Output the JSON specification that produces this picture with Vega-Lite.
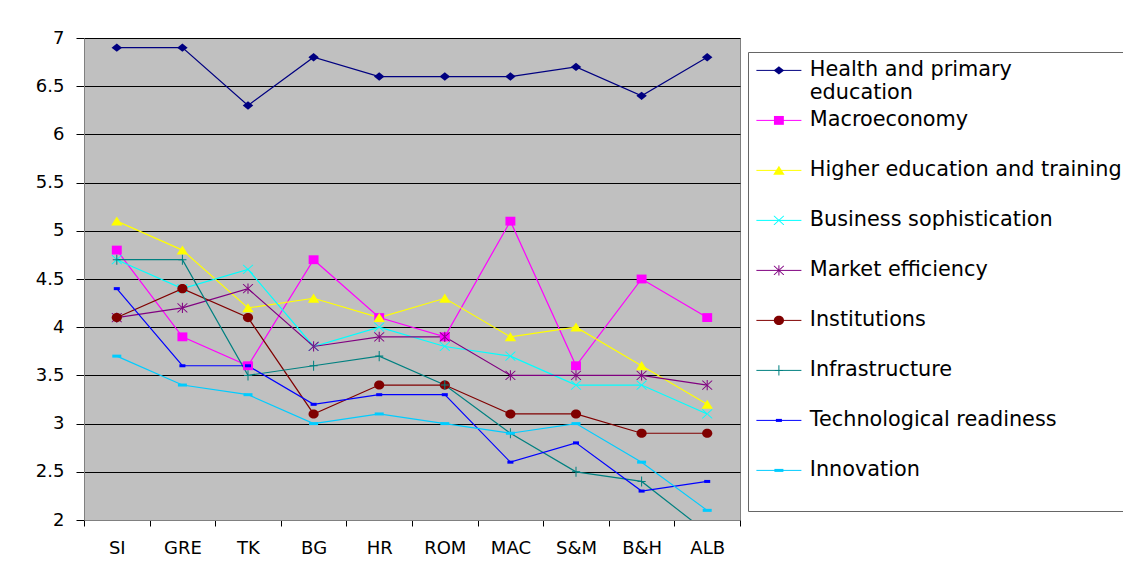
{
  "$schema": "https://vega.github.io/schema/vega-lite/v6.json",
  "width": 656,
  "height": 482,
  "autosize": {"type": "none"},
  "padding": {"left": 84, "top": 38, "right": 383, "bottom": 48},
  "background": "white",
  "config": {
    "font": "DejaVu Sans",
    "view": {"fill": "#C0C0C0", "stroke": "#808080", "strokeWidth": 1}
  },
  "data": {
    "values": [
      {"country": "SI", "Health and primary education": 6.9, "Macroeconomy": 4.8, "Higher education and training": 5.1, "Business sophistication": 4.7, "Market efficiency": 4.1, "Institutions": 4.1, "Infrastructure": 4.7, "Technological readiness": 4.4, "Innovation": 3.7},
      {"country": "GRE", "Health and primary education": 6.9, "Macroeconomy": 3.9, "Higher education and training": 4.8, "Business sophistication": 4.4, "Market efficiency": 4.2, "Institutions": 4.4, "Infrastructure": 4.7, "Technological readiness": 3.6, "Innovation": 3.4},
      {"country": "TK", "Health and primary education": 6.3, "Macroeconomy": 3.6, "Higher education and training": 4.2, "Business sophistication": 4.6, "Market efficiency": 4.4, "Institutions": 4.1, "Infrastructure": 3.5, "Technological readiness": 3.6, "Innovation": 3.3},
      {"country": "BG", "Health and primary education": 6.8, "Macroeconomy": 4.7, "Higher education and training": 4.3, "Business sophistication": 3.8, "Market efficiency": 3.8, "Institutions": 3.1, "Infrastructure": 3.6, "Technological readiness": 3.2, "Innovation": 3.0},
      {"country": "HR", "Health and primary education": 6.6, "Macroeconomy": 4.1, "Higher education and training": 4.1, "Business sophistication": 4.0, "Market efficiency": 3.9, "Institutions": 3.4, "Infrastructure": 3.7, "Technological readiness": 3.3, "Innovation": 3.1},
      {"country": "ROM", "Health and primary education": 6.6, "Macroeconomy": 3.9, "Higher education and training": 4.3, "Business sophistication": 3.8, "Market efficiency": 3.9, "Institutions": 3.4, "Infrastructure": 3.4, "Technological readiness": 3.3, "Innovation": 3.0},
      {"country": "MAC", "Health and primary education": 6.6, "Macroeconomy": 5.1, "Higher education and training": 3.9, "Business sophistication": 3.7, "Market efficiency": 3.5, "Institutions": 3.1, "Infrastructure": 2.9, "Technological readiness": 2.6, "Innovation": 2.9},
      {"country": "S&M", "Health and primary education": 6.7, "Macroeconomy": 3.6, "Higher education and training": 4.0, "Business sophistication": 3.4, "Market efficiency": 3.5, "Institutions": 3.1, "Infrastructure": 2.5, "Technological readiness": 2.8, "Innovation": 3.0},
      {"country": "B&H", "Health and primary education": 6.4, "Macroeconomy": 4.5, "Higher education and training": 3.6, "Business sophistication": 3.4, "Market efficiency": 3.5, "Institutions": 2.9, "Infrastructure": 2.4, "Technological readiness": 2.3, "Innovation": 2.6},
      {"country": "ALB", "Health and primary education": 6.8, "Macroeconomy": 4.1, "Higher education and training": 3.2, "Business sophistication": 3.1, "Market efficiency": 3.4, "Institutions": 2.9, "Infrastructure": 1.87, "Technological readiness": 2.4, "Innovation": 2.1}
    ]
  },
  "transform": [
    {"fold": ["Health and primary education", "Macroeconomy", "Higher education and training", "Business sophistication", "Market efficiency", "Institutions", "Infrastructure", "Technological readiness", "Innovation"], "as": ["series", "value"]}
  ],
  "encoding": {
    "x": {
      "field": "country", "type": "nominal",
      "sort": ["SI", "GRE", "TK", "BG", "HR", "ROM", "MAC", "S&M", "B&H", "ALB"],
      "scale": {"paddingInner": 0, "paddingOuter": 0},
      "axis": {"title": null, "labelAngle": 0, "tickBand": "extent", "tickSize": 6, "tickColor": "black", "domainColor": "#808080", "labelFont": "DejaVu Sans", "labelFontSize": 18, "labelColor": "black", "labelPadding": 13, "grid": false}
    },
    "y": {
      "field": "value", "type": "quantitative",
      "scale": {"domain": [2, 7], "nice": false, "zero": false},
      "axis": {"title": null, "values": [2, 2.5, 3, 3.5, 4, 4.5, 5, 5.5, 6, 6.5, 7], "format": "~g", "grid": true, "gridColor": "black", "gridWidth": 1, "gridOpacity": 1, "tickSize": 8, "tickColor": "black", "domainColor": "#808080", "labelFont": "DejaVu Sans", "labelFontSize": 18, "labelColor": "black", "labelPadding": 12}
    }
  },
  "resolve": {
    "scale": {"color": "independent", "shape": "independent", "size": "independent"},
    "legend": {"color": "independent", "shape": "independent", "size": "independent"}
  },
  "layer": [
    {
      "mark": {"type": "line", "strokeWidth": 1.2, "clip": true},
      "encoding": {
        "color": {
          "field": "series", "type": "nominal",
          "scale": {
            "domain": ["Health and primary education", "Macroeconomy", "Higher education and training", "Business sophistication", "Market efficiency", "Institutions", "Infrastructure", "Technological readiness", "Innovation"],
            "range": ["#000080", "#FF00FF", "#FFFF00", "#00FFFF", "#800080", "#800000", "#008080", "#0000FF", "#00CCFF"]
          },
          "legend": {
            "orient": "none", "legendX": 664, "legendY": 14, "zindex": 0,
            "title": null,
            "fillColor": "white", "strokeColor": "#666666",
            "padding": 8,
            "labelFont": "DejaVu Sans", "labelFontSize": 20.8, "labelColor": "black", "labelLimit": 500,
            "labelExpr": "datum.label == 'Health and primary education' ? ['Health and primary', 'education'] : [datum.label, ' ']",
            "symbolType": "M-4.5,0H4.5", "symbolSize": 100, "symbolStrokeWidth": 1,
            "symbolOffset": 12.5, "labelOffset": 20.5,
            "rowPadding": 6
          }
        }
      }
    },
    {
      "mark": {"type": "point", "filled": true, "opacity": 1, "clip": true},
      "encoding": {
        "color": {
          "field": "series", "type": "nominal",
          "scale": {
            "domain": ["Health and primary education", "Macroeconomy", "Higher education and training", "Business sophistication", "Market efficiency", "Institutions", "Infrastructure", "Technological readiness", "Innovation"],
            "range": ["#000080", "#FF00FF", "#FFFF00", "#00FFFF", "#800080", "#800000", "#008080", "#0000FF", "#00CCFF"]
          },
          "legend": {
            "orient": "none", "legendX": 664, "legendY": 14, "zindex": 1,
            "title": null,
            "padding": 8,
            "labelFont": "DejaVu Sans", "labelFontSize": 20.8, "labelColor": "black", "labelOpacity": 0, "labelLimit": 500,
            "labelExpr": "datum.label == 'Health and primary education' ? ['Health and primary', 'education'] : [datum.label, ' ']",
            "symbolSize": 100, "symbolStrokeWidth": 0, "symbolOpacity": 1,
            "symbolOffset": 12.5, "labelOffset": 20.5,
            "rowPadding": 6
          }
        },
        "shape": {
          "field": "series", "type": "nominal",
          "scale": {
            "domain": ["Health and primary education", "Macroeconomy", "Higher education and training", "Business sophistication", "Market efficiency", "Institutions", "Infrastructure", "Technological readiness", "Innovation"],
            "range": [
              "M0,-0.8L1,0L0,0.8L-1,0Z",
              "M-0.95,-0.85H0.95V0.85H-0.95Z",
              "M0,-0.9L1.1,0.85L-1.1,0.85Z",
              "M-1,-0.9L-0.85,-0.9L1,0.8L1,0.9L0.85,0.9L-1,-0.8ZM1,-0.9L0.85,-0.9L-1,0.8L-1,0.9L-0.85,0.9L1,-0.8Z",
              "M-1,-0.9L-0.85,-0.9L1,0.8L1,0.9L0.85,0.9L-1,-0.8ZM1,-0.9L0.85,-0.9L-1,0.8L-1,0.9L-0.85,0.9L1,-0.8ZM-0.1,-1H0.1V1H-0.1Z",
              "M-1,0A1,0.9 0 1,0 1,0A1,0.9 0 1,0 -1,0Z",
              "M-0.8,-0.1H0.8V0.1H-0.8ZM-0.1,-1H0.1V1H-0.1Z",
              "M-0.6,-0.3H0.6V0.3H-0.6Z",
              "M-0.9,-0.3H0.9V0.3H-0.9Z"
            ]
          }
        },
        "size": {
          "field": "series", "type": "nominal", "legend": null,
          "scale": {
            "domain": ["Health and primary education", "Macroeconomy", "Higher education and training", "Business sophistication", "Market efficiency", "Institutions", "Infrastructure", "Technological readiness", "Innovation"],
            "range": [110, 100, 121, 110, 110, 100, 100, 100, 100]
          }
        }
      }
    }
  ]
}
